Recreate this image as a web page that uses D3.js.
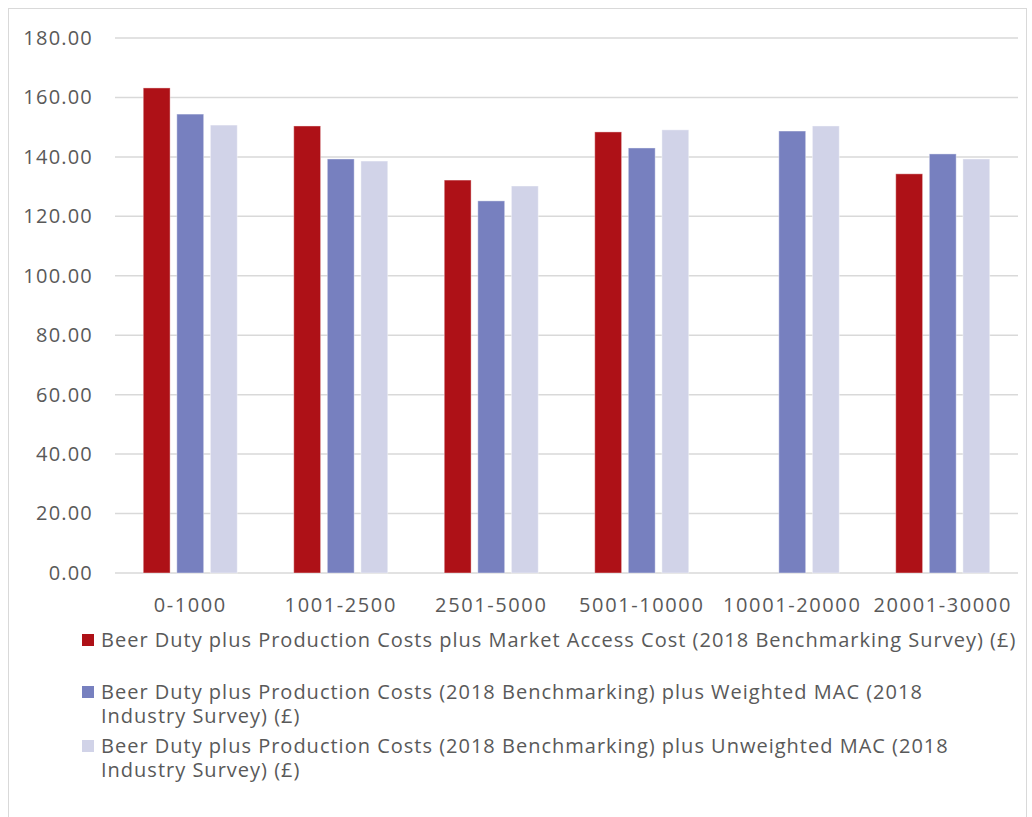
<!DOCTYPE html>
<html lang="en">
<head>
<meta charset="utf-8">
<script src="https://cdn.jsdelivr.net/npm/d3@7"></script>
<style>
  body { margin: 0; background: #fff; }
  text { font-family: "Open Sans", "Noto Sans", sans-serif; fill: #595959; }
</style>
</head>
<body>
<script>
var categories = ["0-1000", "1001-2500", "2501-5000", "5001-10000", "10001-20000", "20001-30000"];
var legendLines = [
  ["Beer Duty plus Production Costs plus Market Access Cost (2018 Benchmarking Survey) (£)"],
  ["Beer Duty plus Production Costs (2018 Benchmarking) plus Weighted MAC (2018", "Industry Survey) (£)"],
  ["Beer Duty plus Production Costs (2018 Benchmarking) plus Unweighted MAC (2018", "Industry Survey) (£)"]
];
var marketAccess = [163.2, 150.4, 132.2, 148.4, null, 134.3];
var weightedMAC = [154.4, 139.3, 125.2, 143.0, 148.7, 141.0];
var unweightedMAC = [150.7, 138.6, 130.2, 149.1, 150.4, 139.3];
var yTicks = [0, 20, 40, 60, 80, 100, 120, 140, 160, 180];
var colors = ["#ae1117", "#7780bf", "#d1d3e8"];

var series = [marketAccess, weightedMAC, unweightedMAC];
var w = 1032, h = 817;
var plotLeft = 115, plotRight = 1018, plotTop = 38, plotBottom = 573;

var svg = d3.select("body").append("svg").attr("width", w).attr("height", h);

// chart border
svg.append("rect").attr("x", 8.5).attr("y", 8.5).attr("width", 1018).attr("height", 820)
   .attr("fill", "none").attr("stroke", "#d9d9d9").attr("stroke-width", 1);

var x = d3.scaleBand().domain(categories).range([plotLeft, plotRight]);
var xInner = d3.scaleBand().domain([0, 1, 2]).range([-47, 47]).paddingInner(0.2);
var y = d3.scaleLinear().domain([0, 180]).range([plotBottom, plotTop]);

// gridlines
svg.append("g").selectAll("line").data(yTicks).enter().append("line")
   .attr("x1", plotLeft).attr("x2", plotRight)
   .attr("y1", function(d) { return y(d); }).attr("y2", function(d) { return y(d); })
   .attr("stroke", "#d9d9d9").attr("stroke-width", 1.5);

var yaxis = d3.axisLeft(y).tickValues(yTicks).tickSize(0).tickPadding(0)
              .tickFormat(function(d) { return d3.format(".2f")(d); });
var gy = svg.append("g").attr("transform", "translate(93,0)").call(yaxis);
gy.select(".domain").remove();
gy.attr("font-family", null);
gy.selectAll("text").style("font-size", "20px").style("letter-spacing", "1.2px")
  .attr("fill", "#595959");

var xaxis = d3.axisBottom(x).tickSize(0).tickPadding(0);
var gx = svg.append("g").attr("transform", "translate(0," + (plotBottom + 39) + ")").call(xaxis);
gx.select(".domain").remove();
gx.attr("font-family", null);
gx.selectAll("text").style("font-size", "20px").style("letter-spacing", "1.6px")
  .attr("fill", "#595959").attr("dy", "0");

// bars
series.forEach(function(vals, si) {
  svg.append("g").selectAll("rect")
     .data(vals.map(function(v, i) { return { c: categories[i], v: v }; }).filter(function(d) { return d.v !== null; }))
     .enter().append("rect")
     .attr("x", function(d) { return x(d.c) + x.bandwidth() / 2 + xInner(si); })
     .attr("width", xInner.bandwidth())
     .attr("y", function(d) { return y(d.v); })
     .attr("height", function(d) { return y(0) - y(d.v); })
     .attr("fill", colors[si])
     .attr("stroke", "#fff").attr("stroke-opacity", 0.4).attr("stroke-width", 1);
});

// legend
var legendY = [647, 699, 753];
var lg = svg.append("g");
legendLines.forEach(function(lines, i) {
  lg.append("rect").attr("x", 82).attr("y", legendY[i] - 13).attr("width", 12).attr("height", 12)
    .attr("fill", colors[i]);
  lines.forEach(function(t, j) {
    lg.append("text").attr("x", 101).attr("y", legendY[i] + j * 23.5)
      .style("font-size", "20px").style("letter-spacing", "1px").text(t);
  });
});
</script>
</body>
</html>
